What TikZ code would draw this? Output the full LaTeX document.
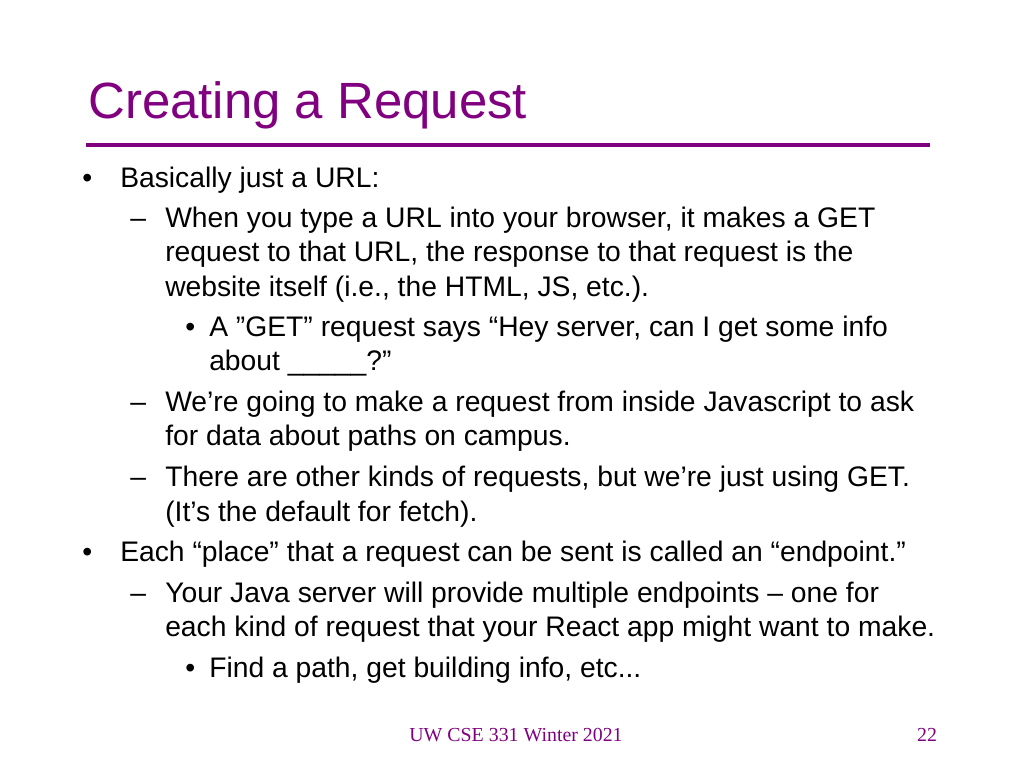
\documentclass[tikz,border=0pt]{standalone}
\usepackage{fontspec}
\setmainfont{Liberation Sans}
\newfontfamily\footfont{Liberation Serif}
\definecolor{slidepurple}{RGB}{128,0,128}
\begin{document}
\begin{tikzpicture}[x=0.75pt,y=-0.75pt,
  txt/.style={anchor=base west,inner sep=0pt,font=\fontsize{21.2pt}{24pt}\selectfont},
  foot/.style={anchor=base,inner sep=0pt,text=slidepurple,font=\footfont\fontsize{14.9pt}{17pt}\selectfont}]
\useasboundingbox[fill=white] (0,0) rectangle (1024,768);
\node[anchor=base west,inner sep=0pt,text=slidepurple,font=\fontsize{38.2pt}{44pt}\selectfont] (title) at (88,118) {Creating a Request};
\coordinate (l1) at (86,145); \coordinate (l2) at (930,145);
\draw[slidepurple,line width=3pt] (l1) -- (l2);
\node[txt] (b1) at (82,187) {\textbullet};
\node[txt] (t1) at (120,187) {Basically just a URL:};
\node[txt] (d1) at (130,227) {–};
\node[txt] (t2) at (165,227) {When you type a URL into your browser, it makes a GET};
\node[txt] (t3) at (165,261) {request to that URL, the response to that request is the};
\node[txt] (t4) at (165,296) {website itself (i.e., the HTML, JS, etc.).};
\node[txt] (b2) at (185,336) {\textbullet};
\node[txt] (t5) at (209,336) {A ”GET” request says “Hey server, can I get some info};
\node[txt] (t6) at (209,370) {about \_\_\_\_\_?”};
\node[txt] (d2) at (130,411) {–};
\node[txt] (t7) at (165,411) {We’re going to make a request from inside Javascript to ask};
\node[txt] (t8) at (165,445) {for data about paths on campus.};
\node[txt] (d3) at (130,486) {–};
\node[txt] (t9) at (165,486) {There are other kinds of requests, but we’re just using GET.};
\node[txt] (t10) at (165,521) {(It’s the default for fetch).};
\node[txt] (b3) at (82,561) {\textbullet};
\node[txt] (t11) at (120,561) {Each “place” that a request can be sent is called an “endpoint.”};
\node[txt] (d4) at (130,602) {–};
\node[txt] (t12) at (165,602) {Your Java server will provide multiple endpoints – one for};
\node[txt] (t13) at (165,636) {each kind of request that your React app might want to make.};
\node[txt] (b4) at (185,677) {\textbullet};
\node[txt] (t14) at (209,677) {Find a path, get building info, etc...};
\node[foot] (f1) at (516,741) {UW CSE 331 Winter 2021};
\node[foot] (f2) at (927,741) {22};
\end{tikzpicture}
\end{document}
